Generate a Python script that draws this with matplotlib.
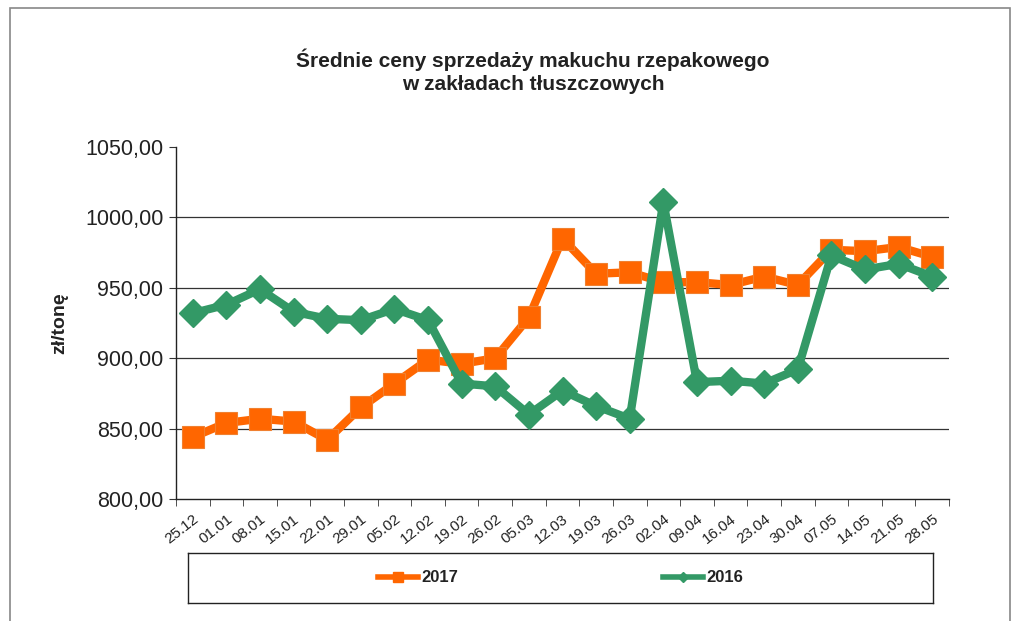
import matplotlib
matplotlib.use("Agg")
import matplotlib.pyplot as plt
from matplotlib.patches import Rectangle
from matplotlib.lines import Line2D
import numpy as np

plt.rcParams['font.family'] = ['Liberation Sans', 'DejaVu Sans']

categories = ["25.12", "01.01", "08.01", "15.01", "22.01", "29.01", "05.02", "12.02",
              "19.02", "26.02", "05.03", "12.03", "19.03", "26.03", "02.04", "09.04",
              "16.04", "23.04", "30.04", "07.05", "14.05", "21.05", "28.05"]
values_2017 = [844, 854, 857, 855, 842, 865, 882, 899, 896, 900, 929, 985, 960, 961,
               954, 954, 952, 958, 952, 977, 976, 979, 972]
values_2016 = [932, 938, 949, 933, 928, 927, 935, 927, 882, 880, 860, 877, 866, 857,
               1011, 883, 884, 882, 892, 973, 963, 967, 958]
yticks = [800, 850, 900, 950, 1000, 1050]

W, H = 1014, 621
fig = plt.figure(figsize=(W / 100, H / 100), dpi=100)

# outer frame
fig.patches.append(Rectangle((10 / W, -0.01), 1000 / W, (621 - 8) / H + 0.01,
                             transform=fig.transFigure, fill=False,
                             edgecolor='#888888', linewidth=1.2))

ax = fig.add_axes([176 / W, 1 - 499 / H, (949 - 176) / W, (499 - 147) / H])

x = np.arange(len(categories))
orange = '#FF6600'
green = '#339966'
l1, = ax.plot(x, values_2017, color=orange, linewidth=6, marker='s',
              markersize=16, markeredgecolor='#F08030', markeredgewidth=0.8, zorder=3)
l2, = ax.plot(x, values_2016, color=green, linewidth=6, marker='D',
              markersize=14, markeredgecolor=green, zorder=4)

ax.set_xlim(-0.5, len(categories) - 0.5)
ax.set_ylim(800, 1050)
ax.set_yticks(yticks)
ax.set_yticklabels([f"{v:.2f}".replace('.', ',') for v in yticks], fontsize=15.5,
                   color='#222222')
for v in yticks[1:-1]:
    ax.axhline(v, color='#333333', linewidth=0.9, zorder=1)

ax.set_xticks(x)
ax.set_xticklabels(categories, rotation=38, ha='right', rotation_mode='anchor',
                   fontsize=11, color='#222222')
ax.set_xticks(np.arange(-0.5, len(categories)), minor=True)
ax.tick_params(axis='x', which='major', length=0, pad=9)
ax.tick_params(axis='x', which='minor', length=5, direction='out', color='#333333')
ax.tick_params(axis='y', length=5, direction='out', color='#333333', pad=4)

for s in ['top', 'right']:
    ax.spines[s].set_visible(False)
for s in ['left', 'bottom']:
    ax.spines[s].set_color('#222222')
    ax.spines[s].set_linewidth(1.0)

ax.set_ylabel('zł/tonę', fontsize=14, fontweight='bold', labelpad=12, color='#222222')

fig.text(533 / W, 1 - 60 / H, 'Średnie ceny sprzedaży makuchu rzepakowego',
         ha='center', va='center', fontsize=15, fontweight='bold', color='#222222')
fig.text(533 / W, 1 - 85 / H, 'w zakładach tłuszczowych',
         ha='center', va='center', fontsize=15, fontweight='bold', color='#222222')

# legend box
lax = fig.add_axes([188 / W, 1 - 603 / H, (933 - 188) / W, (603 - 553) / H])
lax.set_xlim(0, 1)
lax.set_ylim(0, 1)
lax.set_xticks([])
lax.set_yticks([])
for s in lax.spines.values():
    s.set_color('#222222')
    s.set_linewidth(1.0)
h1 = Line2D([], [], color=orange, linewidth=4, marker='s', markersize=7)
h2 = Line2D([], [], color=green, linewidth=4, marker='D', markersize=5)
leg = lax.legend([h1, h2], ['2017', '2016'], ncol=2, loc='center', frameon=False,
                 handlelength=2.4, columnspacing=12.3,
                 prop={'weight': 'bold', 'size': 12}, handletextpad=0.2)
for t in leg.get_texts():
    t.set_color('#222222')

fig.savefig('out.png', dpi=100)
